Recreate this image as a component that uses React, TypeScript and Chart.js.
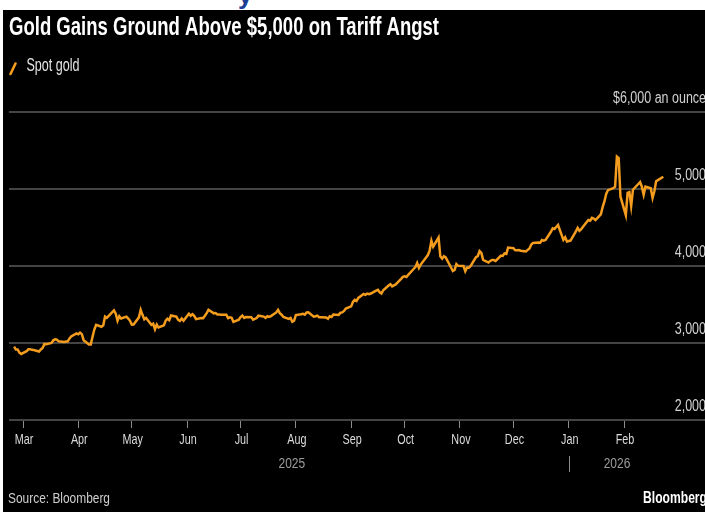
import React, { useEffect, useRef } from "react";
import { Chart, registerables } from "chart.js";
Chart.register(...registerables);

const dates = [
  "2025-02-24","2025-02-25","2025-02-26","2025-02-27","2025-02-28",
  "2025-03-03","2025-03-04","2025-03-05","2025-03-06","2025-03-07","2025-03-10","2025-03-11","2025-03-12","2025-03-13","2025-03-14",
  "2025-03-17","2025-03-18","2025-03-19","2025-03-20","2025-03-21","2025-03-24","2025-03-25","2025-03-26","2025-03-27","2025-03-28","2025-03-31",
  "2025-04-01","2025-04-02","2025-04-03","2025-04-04","2025-04-07","2025-04-08","2025-04-09","2025-04-10","2025-04-11","2025-04-14",
  "2025-04-15","2025-04-16","2025-04-17","2025-04-21","2025-04-22","2025-04-23","2025-04-24","2025-04-25","2025-04-28","2025-04-29","2025-04-30",
  "2025-05-01","2025-05-02","2025-05-05","2025-05-06","2025-05-07","2025-05-08","2025-05-09","2025-05-12","2025-05-13","2025-05-14",
  "2025-05-15","2025-05-16","2025-05-19","2025-05-20","2025-05-21","2025-05-22","2025-05-23","2025-05-26","2025-05-27","2025-05-28","2025-05-29","2025-05-30",
  "2025-06-02","2025-06-03","2025-06-04","2025-06-05","2025-06-06","2025-06-09","2025-06-10","2025-06-11","2025-06-12","2025-06-13",
  "2025-06-16","2025-06-17","2025-06-18","2025-06-19","2025-06-20","2025-06-23","2025-06-24","2025-06-25","2025-06-26","2025-06-27","2025-06-30",
  "2025-07-01","2025-07-02","2025-07-03","2025-07-04","2025-07-07","2025-07-08","2025-07-09","2025-07-10","2025-07-11","2025-07-14",
  "2025-07-15","2025-07-16","2025-07-17","2025-07-18","2025-07-21","2025-07-22","2025-07-23","2025-07-24","2025-07-25","2025-07-28","2025-07-29","2025-07-30","2025-07-31",
  "2025-08-01","2025-08-04","2025-08-05","2025-08-06","2025-08-07","2025-08-08","2025-08-11","2025-08-12","2025-08-13","2025-08-14","2025-08-15",
  "2025-08-18","2025-08-19","2025-08-20","2025-08-21","2025-08-22","2025-08-25","2025-08-26","2025-08-27","2025-08-28","2025-08-29",
  "2025-09-01","2025-09-02","2025-09-03","2025-09-04","2025-09-05","2025-09-08","2025-09-09","2025-09-10","2025-09-11","2025-09-12",
  "2025-09-15","2025-09-16","2025-09-17","2025-09-18","2025-09-19","2025-09-22","2025-09-23","2025-09-24","2025-09-25","2025-09-26","2025-09-29","2025-09-30",
  "2025-10-01","2025-10-02","2025-10-03","2025-10-06","2025-10-07","2025-10-08","2025-10-09","2025-10-10","2025-10-13","2025-10-14","2025-10-15",
  "2025-10-16","2025-10-17","2025-10-20","2025-10-21","2025-10-22","2025-10-23","2025-10-24","2025-10-27","2025-10-28","2025-10-29","2025-10-30","2025-10-31",
  "2025-11-03","2025-11-04","2025-11-05","2025-11-06","2025-11-07","2025-11-10","2025-11-11","2025-11-12","2025-11-13","2025-11-14",
  "2025-11-17","2025-11-18","2025-11-19","2025-11-20","2025-11-21","2025-11-24","2025-11-25","2025-11-26","2025-11-27","2025-11-28",
  "2025-12-01","2025-12-02","2025-12-03","2025-12-04","2025-12-05","2025-12-08","2025-12-09","2025-12-10","2025-12-11","2025-12-12",
  "2025-12-15","2025-12-16","2025-12-17","2025-12-18","2025-12-19","2025-12-22","2025-12-23","2025-12-24","2025-12-26","2025-12-29","2025-12-30","2025-12-31",
  "2026-01-02","2026-01-05","2026-01-06","2026-01-07","2026-01-08","2026-01-09","2026-01-12","2026-01-13","2026-01-14","2026-01-15","2026-01-16",
  "2026-01-19","2026-01-20","2026-01-21","2026-01-22","2026-01-23","2026-01-26","2026-01-27","2026-01-28","2026-01-29","2026-01-30",
  "2026-02-02","2026-02-03","2026-02-04","2026-02-05","2026-02-06","2026-02-09","2026-02-10","2026-02-11","2026-02-12","2026-02-13",
  "2026-02-16","2026-02-17","2026-02-18","2026-02-19","2026-02-20","2026-02-23",
];

const prices = [
  2952, 2915, 2916, 2876, 2858,
  2893, 2918, 2920, 2911, 2910, 2889, 2916, 2934, 2988, 2984,
  3001, 3035, 3048, 3043, 3022, 3012, 3020, 3019, 3057, 3085, 3124,
  3113, 3134, 3115, 3037, 2982, 2982, 3082, 3175, 3237, 3211,
  3229, 3342, 3327, 3424, 3381, 3289, 3348, 3319, 3342, 3317, 3288,
  3239, 3240, 3333, 3431, 3366, 3307, 3325, 3236, 3250, 3178,
  3240, 3201, 3230, 3290, 3314, 3295, 3357, 3342, 3300, 3288, 3318, 3289,
  3381, 3353, 3373, 3352, 3310, 3325, 3323, 3354, 3387, 3432,
  3385, 3388, 3370, 3369, 3368, 3368, 3323, 3333, 3328, 3274, 3303,
  3338, 3357, 3326, 3337, 3336, 3302, 3313, 3324, 3355, 3343,
  3325, 3347, 3338, 3350, 3397, 3431, 3387, 3368, 3337, 3314, 3326, 3275, 3289,
  3363, 3373, 3380, 3369, 3397, 3398, 3342, 3348, 3356, 3335, 3336,
  3332, 3316, 3347, 3339, 3371, 3365, 3393, 3397, 3416, 3448,
  3476, 3533, 3560, 3545, 3586, 3636, 3626, 3641, 3634, 3643,
  3679, 3690, 3659, 3644, 3685, 3746, 3764, 3736, 3749, 3760, 3833, 3859,
  3866, 3857, 3886, 3961, 3985, 4040, 3975, 4018, 4110, 4142, 4200,
  4326, 4250, 4370, 4125, 4095, 4126, 4111, 3981, 3935, 3950, 4024, 4002,
  4000, 3932, 3980, 3977, 4000, 4115, 4128, 4195, 4171, 4080,
  4045, 4066, 4078, 4077, 4065, 4136, 4131, 4164, 4157, 4239,
  4231, 4204, 4205, 4208, 4198, 4190, 4209, 4228, 4280, 4300,
  4305, 4303, 4338, 4330, 4339, 4444, 4490, 4480, 4533, 4340, 4372, 4319,
  4330, 4448, 4495, 4456, 4478, 4510, 4597, 4588, 4625, 4616, 4596,
  4670, 4765, 4838, 4937, 4985, 5010, 5030, 5420, 5400, 4900,
  4660, 4950, 4960, 4780, 4990, 5065, 5090, 5030, 4925, 5030,
  5010, 4885, 4970, 5100, 5115, 5160,
];

const monthTicks = [
  "2025-03-01","2025-04-01","2025-05-01","2025-06-01","2025-07-01","2025-08-01",
  "2025-09-01","2025-10-01","2025-11-01","2025-12-01","2026-01-01","2026-02-01",
];
const monthLabels = ["Mar","Apr","May","Jun","Jul","Aug","Sep","Oct","Nov","Dec","Jan","Feb"];
const yearLabels = ["2025", "2026"];
const yearAnchors = ["2025-08-01", "2026-02-01"];
const yearDivider = "2026-01-01";
const yTicks = [2000, 3000, 4000, 5000, 6000];
const yTickLabels = ["2,000", "3,000", "4,000", "5,000", "$6,000 an ounce"];

const TITLE = "Gold Gains Ground Above $5,000 on Tariff Angst";
const LEGEND = "Spot gold";
const SOURCE = "Source: Bloomberg";
const BRAND = "Bloomberg";

const ORANGE = "#f39c1e";
const FAMILY = "'Liberation Sans', Arial, sans-serif";
const OX = 3;
const OY = 10;

const origin = Date.UTC(2025, 2, 1);
function toDay(s: string): number {
  const [y, m, d] = s.split("-").map(Number);
  return (Date.UTC(y, m - 1, d) - origin) / 86400000;
}

function drawText(
  ctx: CanvasRenderingContext2D,
  s: string,
  x: number,
  y: number,
  o: { size: number; weight?: string; color: string; align?: CanvasTextAlign; sx?: number; fit?: number }
) {
  ctx.save();
  ctx.font = `${o.weight || "normal"} ${o.size}px ${FAMILY}`;
  let sx = o.sx ?? 1;
  if (o.fit) sx = o.fit / ctx.measureText(s).width;
  ctx.translate(x, y);
  ctx.scale(sx, 1);
  ctx.textAlign = o.align || "left";
  ctx.textBaseline = "alphabetic";
  ctx.fillStyle = o.color;
  ctx.fillText(s, 0, 0);
  ctx.restore();
}

const decorPlugin = {
  id: "decor",
  afterDraw(chart: any) {
    const ctx: CanvasRenderingContext2D = chart.ctx;
    const xs = chart.scales.x;
    const ys = chart.scales.y;
    // title
    drawText(ctx, TITLE, 9 - OX, 35 - OY, { size: 25, weight: "bold", color: "#ffffff", fit: 430 });
    // legend
    ctx.save();
    ctx.strokeStyle = ORANGE;
    ctx.lineWidth = 2.6;
    ctx.lineCap = "round";
    ctx.beginPath();
    ctx.moveTo(10.5 - OX, 74 - OY);
    ctx.lineTo(15.5 - OX, 63.5 - OY);
    ctx.stroke();
    ctx.restore();
    drawText(ctx, LEGEND, 26.5 - OX, 70.5 - OY, { size: 18, color: "#e6e6e6", fit: 53 });
    // y labels
    yTicks.forEach((v, i) => {
      const py = ys.getPixelForValue(v);
      drawText(ctx, yTickLabels[i], 706 - OX, py - 9, { size: 16, color: "#d2d2d2", align: "right", sx: 0.78 });
    });
    // month labels
    monthTicks.forEach((d, i) => {
      const px = xs.getPixelForValue(toDay(d));
      drawText(ctx, monthLabels[i], px + 1, 444 - OY, { size: 15, color: "#dcdcdc", align: "center", sx: 0.72 });
    });
    // year labels
    const yearShift = [-4, -7];
    yearAnchors.forEach((d, i) => {
      const px = xs.getPixelForValue(toDay(d));
      drawText(ctx, yearLabels[i], px + yearShift[i], 468 - OY, { size: 15, color: "#9c9c9c", align: "center", sx: 0.8 });
    });
    const dx = Math.round(xs.getPixelForValue(toDay(yearDivider))) + 0.5;
    ctx.save();
    ctx.strokeStyle = "#8a8a8a";
    ctx.lineWidth = 1;
    ctx.beginPath();
    ctx.moveTo(dx, 456 - OY);
    ctx.lineTo(dx, 472 - OY);
    ctx.stroke();
    ctx.restore();
    // footer
    drawText(ctx, SOURCE, 8 - OX, 503 - OY, { size: 15.5, color: "#cfcfcf", fit: 102 });
    drawText(ctx, BRAND, 707 - OX, 503 - OY, { size: 16, weight: "bold", color: "#ffffff", align: "right", fit: 64 });
  },
};

export default function App() {
  const ref = useRef<HTMLCanvasElement | null>(null);
  useEffect(() => {
    if (!ref.current) return;
    const points = dates.map((s, i) => ({ x: toDay(s), y: prices[i] }));
    const chart = new Chart(ref.current, {
      type: "line",
      data: {
        datasets: [
          {
            label: LEGEND,
            data: points,
            borderColor: ORANGE,
            borderWidth: 2.5,
            pointRadius: 0,
            tension: 0,
            fill: false,
          },
        ],
      },
      options: {
        animation: false,
        responsive: false,
        maintainAspectRatio: false,
        layout: { padding: { left: 6, top: 102, right: 0, bottom: 84 } },
        plugins: { legend: { display: false }, tooltip: { enabled: false } },
        events: [],
        scales: {
          x: {
            type: "linear",
            min: -7.85,
            max: 382.4,
            afterBuildTicks: (scale: any) => {
              scale.ticks = monthTicks.map((d) => ({ value: toDay(d) }));
            },
            ticks: { display: false },
            grid: { display: true, drawOnChartArea: false, drawTicks: true, tickLength: 8, color: "#8c8c8c", lineWidth: 1 },
            border: { display: false },
          },
          y: {
            type: "linear",
            min: 2000,
            max: 6000,
            afterBuildTicks: (scale: any) => {
              scale.ticks = yTicks.map((v) => ({ value: v }));
            },
            ticks: { display: false },
            grid: { display: true, drawTicks: false, color: "#444444", lineWidth: 2 },
            border: { display: false },
          },
        },
      },
      plugins: [decorPlugin],
    });
    return () => chart.destroy();
  }, []);

  return (
    <div style={{ position: "fixed", left: 0, top: 0, width: 705, height: 512, background: "#ffffff", overflow: "hidden" }}>
      <div style={{ position: "absolute", left: 238, top: 0, width: 16, height: 10, overflow: "hidden" }}>
        <span style={{ position: "absolute", left: 0, top: -20, fontFamily: FAMILY, fontWeight: "bold", fontSize: 26, lineHeight: "30px", color: "#1c3f94" }}>y</span>
      </div>
      <canvas ref={ref} width={702} height={502} style={{ position: "absolute", left: OX, top: OY, width: 702, height: 502, background: "#000000" }} />
    </div>
  );
}
